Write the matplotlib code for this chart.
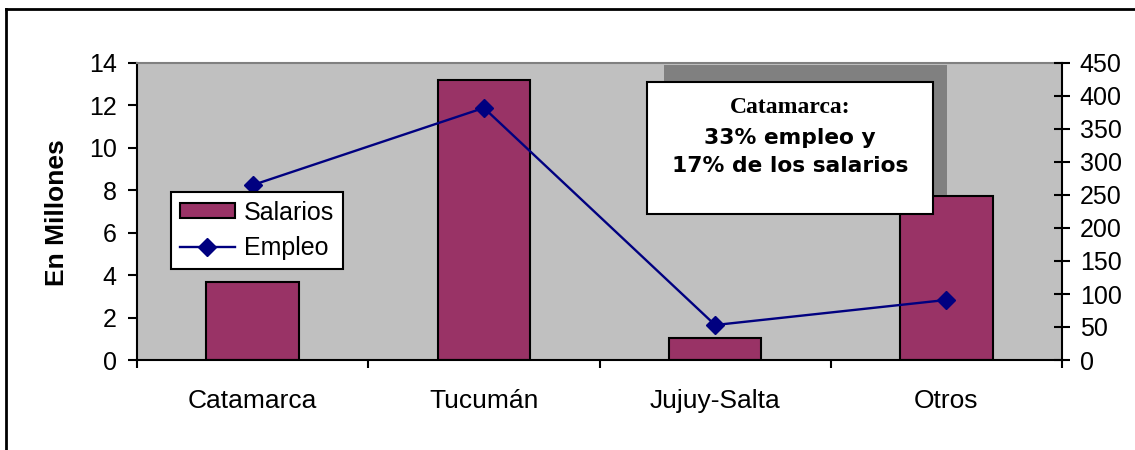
import matplotlib.pyplot as plt
from matplotlib.patches import Rectangle
from matplotlib.lines import Line2D

plt.rcParams['font.family'] = ['Liberation Sans', 'DejaVu Sans']

regiones = ['Catamarca', 'Tucumán', 'Jujuy-Salta', 'Otros']
salarios = [3.7, 13.2, 1.05, 7.75]      # millones
empleo = [265, 382, 53, 91]
nota = ['Catamarca:', '33% empleo y', '17% de los salarios']

bar_color = '#993366'
line_color = '#000080'

fig = plt.figure(figsize=(11.35, 4.5), dpi=100)
ax = fig.add_axes([0.1207, 0.2, 0.815, 0.66])
ax.set_facecolor('#C0C0C0')

x = list(range(len(regiones)))
ax.bar(x, salarios, 0.4, color=bar_color, edgecolor='black', linewidth=1.5, zorder=2)
ax.set_xlim(-0.5, len(regiones) - 0.5)
ax.set_ylim(0, 14)
ax.set_yticks(range(0, 15, 2))
ax.tick_params(axis='y', direction='out', length=6.5, width=1.5, labelsize=18, pad=8)

# category boundary ticks + centered labels
ax.set_xticks([i - 0.5 for i in range(len(regiones) + 1)])
ax.set_xticklabels([])
ax.set_xticks(x, minor=True)
ax.set_xticklabels(regiones, minor=True)
ax.tick_params(axis='x', which='major', direction='out', length=6, width=1.5)
ax.tick_params(axis='x', which='minor', length=0, labelsize=19, pad=21)

for s in ['left', 'bottom']:
    ax.spines[s].set_linewidth(1.5)
ax.spines['top'].set_color('#808080')
ax.spines['top'].set_linewidth(1.5)
ax.spines['right'].set_visible(False)

ax.set_ylabel('En Millones', fontsize=19, fontweight='bold')
ax.yaxis.set_label_coords(-0.074, 0.495)

ax2 = ax.twinx()
ax2.plot(x, empleo, color=line_color, linewidth=1.7, marker='D', markersize=9,
         zorder=3)
ax2.set_ylim(0, 450)
ax2.set_yticks(range(0, 451, 50))
ax2.tick_params(axis='y', direction='inout', length=11.5, width=1.5, labelsize=18, pad=7)
ax2.spines['right'].set_linewidth(1.5)
for s in ['left', 'top', 'bottom']:
    ax2.spines[s].set_visible(False)

# annotation box with shadow
ax2.add_patch(Rectangle((0.570, 0.556), 0.306, 0.437, transform=ax2.transAxes,
                        facecolor='#808080', edgecolor='none', zorder=4))
ax2.add_patch(Rectangle((0.551, 0.4916), 0.310, 0.444, transform=ax2.transAxes,
                        facecolor='white', edgecolor='black', linewidth=1.5, zorder=5))
cx = (790 - 137) / 925
ax2.text(cx, (360 - 108) / 297, nota[0], transform=ax2.transAxes, ha='center', va='center',
         family='Liberation Serif', fontweight='bold', fontsize=17, zorder=6)
ax2.text(cx, (360 - 138) / 297, nota[1], transform=ax2.transAxes, ha='center', va='center',
         family='DejaVu Sans', fontweight='bold', fontsize=15.7, zorder=6)
ax2.text(cx, (360 - 166) / 297, nota[2], transform=ax2.transAxes, ha='center', va='center',
         family='DejaVu Sans', fontweight='bold', fontsize=15.7, zorder=6)

handles = [Rectangle((0, 0), 1, 1, facecolor=bar_color, edgecolor='black', linewidth=1.5),
           Line2D([], [], color=line_color, linewidth=1.7, marker='D', markersize=9)]
leg = ax2.legend(handles, ['Salarios', 'Empleo'], loc='upper left',
                 bbox_to_anchor=(0.0368, 0.566), fontsize=18, frameon=True,
                 fancybox=False, framealpha=1, edgecolor='black',
                 handlelength=2.2, handleheight=0.55, handletextpad=0.35,
                 borderpad=0.35, labelspacing=0.45, borderaxespad=0)
leg.get_frame().set_linewidth(1.5)
leg.set_zorder(7)

# outer frame: top and left only
fig.add_artist(Line2D([6 / 1135, 1], [1 - 9 / 450, 1 - 9 / 450], transform=fig.transFigure,
                      color='black', linewidth=2))
fig.add_artist(Line2D([6 / 1135, 6 / 1135], [0, 1 - 9 / 450], transform=fig.transFigure,
                      color='black', linewidth=2))

fig.savefig('out.png', dpi=100)
